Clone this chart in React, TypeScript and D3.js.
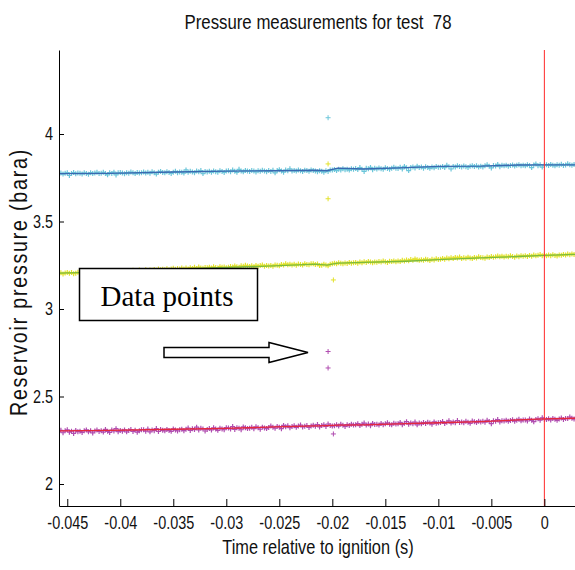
import React, { useEffect, useRef } from 'react'
import * as d3 from 'd3'

// logger clock: first sample and spacing (s, relative to ignition)
const sampleStart = -0.0458
const sampleStep = 0.0002

// raw readings per transducer, mbar
const cyanMbar = [
  3774, 3777, 3771, 3776, 3779, 3763, 3775, 3780, 3773, 3777,
  3776, 3772, 3778, 3775, 3770, 3779, 3774, 3777, 3781, 3775,
  3776, 3781, 3774, 3767, 3779, 3775, 3782, 3766, 3778, 3780,
  3777, 3773, 3779, 3776, 3783, 3778, 3774, 3780, 3777, 3779,
  3783, 3777, 3781, 3776, 3784, 3779, 3771, 3782, 3786, 3780,
  3778, 3784, 3780, 3775, 3782, 3787, 3779, 3783, 3781, 3777,
  3795, 3781, 3787, 3783, 3779, 3788, 3784, 3791, 3774, 3786,
  3783, 3787, 3781, 3789, 3785, 3782, 3790, 3786, 3780, 3788,
  3790, 3785, 3794, 3787, 3781, 3798, 3789, 3784, 3792, 3788,
  3786, 3791, 3788, 3783, 3790, 3787, 3793, 3789, 3785, 3791,
  3786, 3793, 3778, 3791, 3796, 3789, 3782, 3794, 3790, 3801,
  3789, 3792, 3788, 3794, 3790, 3786, 3793, 3791, 3787, 3795,
  3792, 3788, 3785, 3790, 3787, 3782, 3790, 3786, 3795, 3794,
  3797, 3791, 3799, 3795, 3801, 3796, 3798, 3794, 3802, 3799,
  3803, 3797, 3808, 3799, 3786, 3804, 3801, 3809, 3796, 3805,
  3800, 3806, 3802, 3798, 3807, 3803, 3799, 3805, 3810, 3804,
  3803, 3810, 3800, 3815, 3807, 3791, 3809, 3812, 3806, 3816,
  3808, 3811, 3805, 3813, 3809, 3804, 3812, 3807, 3814, 3810,
  3810, 3814, 3808, 3821, 3813, 3800, 3815, 3811, 3818, 3814,
  3812, 3817, 3813, 3809, 3816, 3819, 3814, 3818, 3811, 3816,
  3812, 3819, 3824, 3816, 3806, 3820, 3817, 3826, 3813, 3821,
  3818, 3822, 3816, 3820, 3823, 3817, 3821, 3825, 3819, 3822,
  3818, 3824, 3820, 3808, 3823, 3829, 3819, 3825, 3811, 3822,
  3824, 3820, 3826, 3821, 3818, 3825, 3822, 3827, 3820, 3823,
  3830, 3824, 3821, 3826, 3823,
]
const yellowMbar = [
  3203, 3207, 3200, 3206, 3209, 3204, 3208, 3202, 3205, 3210,
  3206, 3211, 3204, 3208, 3212, 3205, 3209, 3213, 3207, 3211,
  3210, 3215, 3208, 3213, 3211, 3216, 3209, 3214, 3218, 3212,
  3214, 3219, 3212, 3217, 3215, 3221, 3214, 3218, 3223, 3216,
  3220, 3225, 3219, 3223, 3221, 3226, 3222, 3228, 3224, 3227,
  3225, 3230, 3224, 3229, 3233, 3227, 3231, 3228, 3234, 3229,
  3234, 3229, 3236, 3231, 3238, 3232, 3240, 3235, 3233, 3237,
  3236, 3239, 3234, 3241, 3237, 3235, 3242, 3238, 3240, 3236,
  3238, 3243, 3240, 3246, 3241, 3238, 3247, 3244, 3250, 3246,
  3243, 3247, 3242, 3249, 3245, 3248, 3251, 3244, 3249, 3246,
  3249, 3245, 3252, 3250, 3247, 3255, 3251, 3258, 3253, 3256,
  3252, 3256, 3250, 3257, 3254, 3251, 3259, 3255, 3253, 3258,
  3259, 3254, 3257, 3248, 3250, 3256, 3252, 3247, 3256, 3259,
  3262, 3258, 3264, 3261, 3259, 3263, 3260, 3266, 3262, 3264,
  3266, 3262, 3268, 3264, 3270, 3266, 3272, 3268, 3265, 3269,
  3267, 3271, 3268, 3274, 3270, 3266, 3273, 3271, 3275, 3270,
  3275, 3271, 3278, 3274, 3280, 3276, 3283, 3279, 3286, 3282,
  3278, 3282, 3279, 3285, 3281, 3277, 3284, 3280, 3287, 3283,
  3284, 3289, 3285, 3291, 3287, 3293, 3288, 3295, 3291, 3297,
  3289, 3293, 3290, 3296, 3292, 3288, 3295, 3291, 3298, 3294,
  3293, 3290, 3297, 3294, 3300, 3296, 3298, 3303, 3299, 3302,
  3297, 3301, 3298, 3304, 3300, 3296, 3303, 3299, 3305, 3301,
  3305, 3300, 3306, 3302, 3308, 3304, 3307, 3311, 3305, 3309,
  3304, 3308, 3305, 3310, 3306, 3303, 3309, 3307, 3312, 3308,
  3314, 3310, 3315, 3311, 3313,
]
const magentaMbar = [
  2298, 2307, 2293, 2304, 2310, 2296, 2302, 2289, 2306, 2299,
  2301, 2295, 2305, 2309, 2298, 2304, 2292, 2303, 2308, 2300,
  2305, 2297, 2312, 2301, 2295, 2308, 2303, 2316, 2299, 2306,
  2302, 2309, 2298, 2306, 2311, 2300, 2307, 2296, 2304, 2310,
  2310, 2302, 2314, 2298, 2309, 2305, 2317, 2300, 2311, 2307,
  2304, 2312, 2306, 2301, 2315, 2308, 2303, 2310, 2313, 2305,
  2313, 2320, 2306, 2316, 2311, 2325, 2309, 2318, 2314, 2303,
  2312, 2317, 2309, 2321, 2314, 2307, 2319, 2315, 2310, 2322,
  2320, 2315, 2328, 2312, 2322, 2318, 2310, 2326, 2321, 2317,
  2319, 2324, 2316, 2327, 2321, 2313, 2325, 2320, 2317, 2323,
  2331, 2324, 2319, 2329, 2325, 2316, 2335, 2327, 2333, 2322,
  2328, 2333, 2324, 2331, 2337, 2326, 2330, 2334, 2323, 2332,
  2336, 2330, 2340, 2326, 2334, 2338, 2329, 2343, 2335, 2331,
  2333, 2338, 2331, 2341, 2336, 2329, 2339, 2334, 2342, 2337,
  2339, 2345, 2334, 2341, 2348, 2337, 2343, 2333, 2346, 2340,
  2341, 2337, 2346, 2339, 2344, 2350, 2342, 2338, 2347, 2343,
  2344, 2352, 2339, 2347, 2356, 2342, 2349, 2345, 2354, 2338,
  2348, 2344, 2351, 2346, 2353, 2349, 2342, 2355, 2347, 2350,
  2351, 2357, 2346, 2353, 2361, 2348, 2355, 2350, 2363, 2352,
  2354, 2350, 2358, 2353, 2347, 2360, 2356, 2351, 2359, 2355,
  2358, 2353, 2364, 2357, 2345, 2362, 2359, 2368, 2355, 2361,
  2360, 2365, 2358, 2363, 2367, 2359, 2364, 2370, 2361, 2366,
  2366, 2360, 2371, 2364, 2356, 2369, 2373, 2365, 2378, 2370,
  2368, 2373, 2366, 2375, 2370, 2364, 2372, 2377, 2369, 2374,
  2374, 2383, 2376, 2371, 2378,
]

// the glitch around t = -0.0203 s
const glitchTimes = [-0.0204, -0.0204, -0.0204, -0.0199, -0.0204, -0.0204, -0.0199]
const glitchMbar = [4093, 3829, 3630, 3166, 2757, 2663, 2286]
const glitchSeries = ['cyan', 'yellow', 'yellow', 'yellow', 'magenta', 'magenta', 'magenta']

// moving-average traces, mbar
const smoothTimes = [-0.0459, -0.041, -0.035, -0.03, -0.0255, -0.0215, -0.0205, -0.0195, -0.017, -0.013, -0.01, -0.006, -0.0025, 0, 0.003]
const smoothCyan = [3774, 3775, 3783, 3788, 3790, 3793, 3790, 3805, 3800, 3808, 3815, 3816, 3823, 3824, 3824]
const smoothYellow = [3205, 3212, 3228, 3238, 3246, 3256, 3251, 3262, 3266, 3273, 3282, 3292, 3300, 3306, 3312]
const smoothMagenta = [2303, 2306, 2313, 2318, 2326, 2332, 2334, 2336, 2338, 2345, 2350, 2357, 2366, 2372, 2376]

const xTicks = [-0.045, -0.04, -0.035, -0.03, -0.025, -0.02, -0.015, -0.01, -0.005, 0]
const yTicks = [2, 2.5, 3, 3.5, 4]

const colors: Record<string, { pt: string; line: string }> = {
  cyan: { pt: '#6cc6da', line: '#3a68b0' },
  yellow: { pt: '#e3e22c', line: '#7cbb3e' },
  magenta: { pt: '#b04db0', line: '#e5283c' },
}

const sans = "'Liberation Sans', Arial, sans-serif"
const squeeze = 'scale(0.82,1)'
const tickSqueeze = 'scale(0.78,1)'

const left = 59, right = 575, top = 50, bottom = 506

const x = d3.scaleLinear().domain([-0.04578, 0.00289]).range([left, right])
const y = d3.scaleLinear().domain([1.8743, 4.48]).range([bottom, top])

const plus = (cx: number, cy: number) => `M${cx - 2.5},${cy}H${cx + 2.5}M${cx},${cy - 2.5}V${cy + 2.5}`

export default function App() {
  const xAxisRef = useRef<SVGGElement>(null)
  const yAxisRef = useRef<SVGGElement>(null)

  useEffect(() => {
    const gx = d3.select(xAxisRef.current!)
    gx.call(
      d3.axisBottom(x).tickValues(xTicks).tickFormat(d => String(d)).tickSizeInner(-7).tickSizeOuter(0).tickPadding(9.5)
    )
    gx.attr('font-size', 18.5).attr('font-family', sans)
    gx.selectAll('.tick text').attr('fill', '#111').attr('transform', tickSqueeze)

    const gy = d3.select(yAxisRef.current!)
    gy.call(
      d3.axisLeft(y).tickValues(yTicks).tickFormat(d => String(d)).tickSizeInner(-5).tickSizeOuter(0).tickPadding(7.7)
    )
    gy.attr('font-size', 18.5).attr('font-family', sans)
    gy.selectAll('.tick text').attr('fill', '#111').attr('transform', tickSqueeze)
  }, [])

  const times = cyanMbar.map((_, i) => sampleStart + i * sampleStep)
  const series = [
    { key: 'cyan', raw: cyanMbar, smooth: smoothCyan },
    { key: 'yellow', raw: yellowMbar, smooth: smoothYellow },
    { key: 'magenta', raw: magentaMbar, smooth: smoothMagenta },
  ]

  const line = d3.line<number>()
    .x((_, i) => x(smoothTimes[i]))
    .y(d => y(d / 1000))

  return (
    <svg width={575} height={570} style={{ position: 'absolute', left: 0, top: 0, background: '#fff' }}>
      <defs>
        <clipPath id="plot">
          <rect x={left} y={top} width={right - left} height={bottom - top} />
        </clipPath>
      </defs>
      <g transform={`translate(318,29) ${squeeze}`}>
        <text textAnchor="middle" fontSize={20.5} fontFamily={sans} fill="#111" style={{ whiteSpace: 'pre' }}>
          {'Pressure measurements for test  78'}
        </text>
      </g>

      <g clipPath="url(#plot)">
        {series.map(s => (
          <g key={s.key}>
            <path
              d={s.raw.map((v, i) => plus(x(times[i]), y(v / 1000))).join('')}
              stroke={colors[s.key].pt}
              strokeWidth={1.2}
              fill="none"
            />
            <path d={line(s.smooth) ?? ''} stroke={colors[s.key].line} strokeWidth={1.3} fill="none" />
          </g>
        ))}
        {glitchMbar.map((v, i) => (
          <path key={i} d={plus(x(glitchTimes[i]), y(v / 1000))} stroke={colors[glitchSeries[i]].pt} strokeWidth={1} />
        ))}
      </g>

      <line x1={x(0)} x2={x(0)} y1={top} y2={bottom} stroke="#ff2a2a" strokeWidth={1} />

      <g ref={xAxisRef} transform={`translate(0,${bottom})`} />
      <g ref={yAxisRef} transform={`translate(${left},0)`} />

      <g transform={`translate(318,554) ${squeeze}`}>
        <text textAnchor="middle" fontSize={20} fontFamily={sans} fill="#111">
          Time relative to ignition (s)
        </text>
      </g>
      <g transform={`translate(26.7,282) rotate(-90) ${squeeze}`}>
        <text textAnchor="middle" fontSize={24} letterSpacing={2.15} fontFamily={sans} fill="#111">
          Reservoir pressure (bara)
        </text>
      </g>

      <rect x={79.5} y={268.5} width={178} height={52} fill="#fff" stroke="#000" strokeWidth={1.5} />
      <text x={167} y={306} textAnchor="middle" fontSize={29} fontFamily="'Liberation Serif', 'Times New Roman', serif" fill="#000">
        Data points
      </text>
      <polygon
        points="164,347.5 269,347.5 269,342.5 308,352.5 269,362.5 269,357.5 164,357.5"
        fill="#fff"
        stroke="#000"
        strokeWidth={1.5}
      />
    </svg>
  )
}
